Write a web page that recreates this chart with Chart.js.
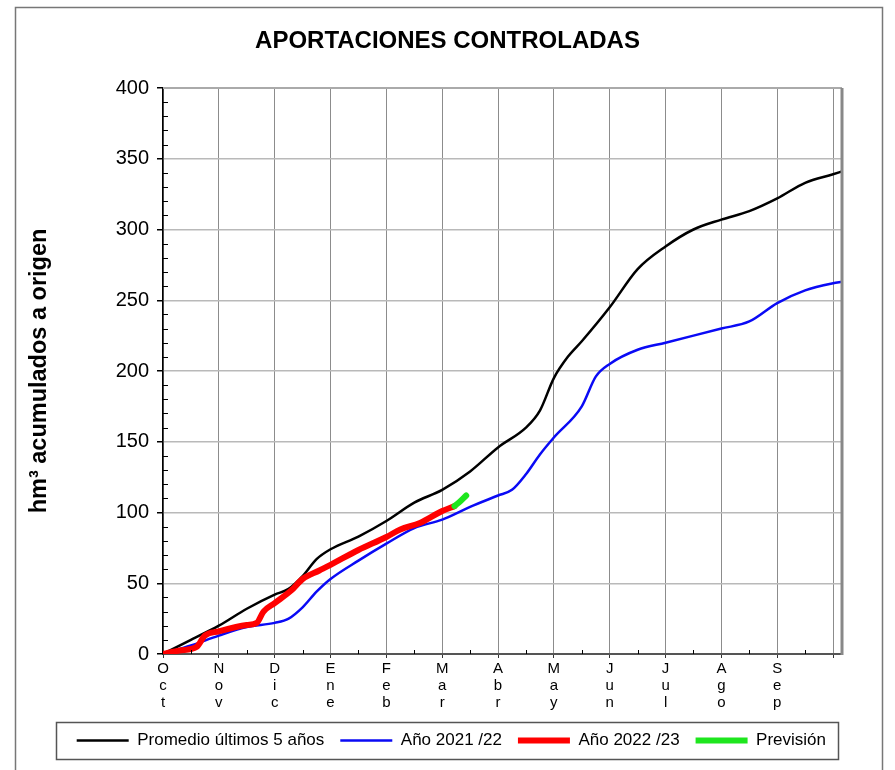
<!DOCTYPE html>
<html>
<head>
<meta charset="utf-8">
<script src="https://cdn.jsdelivr.net/npm/chart.js@4.4.0/dist/chart.umd.min.js"></script>
<style>
  html, body { margin: 0; padding: 0; background: #fff; }
</style>
</head>
<body>
<canvas id="myCanvas" width="895" height="770"></canvas>
<script>
// month tick positions (0 = 1 Oct) and stacked letter labels
const monthTicks = [0, 1, 2, 3, 4, 5, 6, 7, 8, 9, 10, 11, 12];
const monthLabels = [
  ['O','c','t'], ['N','o','v'], ['D','i','c'], ['E','n','e'], ['F','e','b'], ['M','a','r'],
  ['A','b','r'], ['M','a','y'], ['J','u','n'], ['J','u','l'], ['A','g','o'], ['S','e','p'], ['']
];
const yTicks = [0, 50, 100, 150, 200, 250, 300, 350, 400];
const chartTitle = 'APORTACIONES CONTROLADAS';

// Promedio últimos 5 años
const avgX    = [0, 0.5, 1, 1.5, 2, 2.25, 2.5, 2.75, 3, 3.5, 4, 4.5, 5, 5.5, 6, 6.5, 6.75, 7, 7.25, 7.5, 8, 8.5, 9, 9.5, 10, 10.5, 11, 11.5, 12, 12.16];
const avgVals = [0, 10, 20, 32, 42, 46, 55, 67, 74, 83, 94, 107, 116, 129, 146, 160, 172, 195, 210, 221, 245, 272, 288, 300, 307, 313, 322, 333, 339, 341];

// Año 2021/22
const y2122X    = [0, 0.5, 1, 1.5, 2, 2.25, 2.5, 2.75, 3, 3.5, 4, 4.5, 5, 5.5, 6, 6.25, 6.5, 6.75, 7, 7.5, 7.75, 8, 8.5, 9, 9.5, 10, 10.5, 11, 11.5, 12, 12.16];
const y2122Vals = [0, 6, 13, 19, 22, 25, 33, 44, 53, 66, 78, 89, 95, 104, 112, 116, 127, 141, 153, 175, 196, 205, 215, 220, 225, 230, 235, 248, 257, 262, 263];

// Año 2022/23
const y2223X    = [0, 0.3, 0.6, 0.75, 1, 1.5, 1.68, 1.8, 2, 2.3, 2.5, 2.8, 3, 3.5, 4, 4.25, 4.6, 5, 5.22];
const y2223Vals = [0, 2.5, 5, 13, 16, 20.5, 22, 30, 36, 45, 53, 59, 63, 73.5, 82.7, 88, 92.6, 101, 104.5];

// Previsión
const forecastX    = [5.22, 5.3, 5.43];
const forecastVals = [104.5, 107, 112];

const toPoints = (xs, ys) => xs.map((x, i) => ({ x: x, y: ys[i] }));
const FONT = "'Liberation Sans', Arial, sans-serif";

// title, frame, plot border, minor ticks, legend box
const decorations = {
  id: 'decorations',
  afterDraw(chart) {
    const c = chart.ctx, a = chart.chartArea;
    const xs = chart.scales.x, ys = chart.scales.y;
    c.save();
    // title centred on the page
    c.fillStyle = '#000';
    c.font = 'bold 24px ' + FONT;
    c.textAlign = 'center';
    c.textBaseline = 'middle';
    c.fillText(chartTitle, chart.width / 2, 41);
    // outer frame
    c.strokeStyle = '#777';
    c.lineWidth = 1.5;
    c.strokeRect(15.5, 7.5, 867, 800);
    // plot top / right border
    c.strokeStyle = '#aaa';
    c.lineWidth = 2;
    c.beginPath(); c.moveTo(a.left, a.top); c.lineTo(a.right, a.top); c.stroke();
    c.strokeStyle = '#888';
    c.lineWidth = 3;
    c.beginPath(); c.moveTo(a.right, a.top); c.lineTo(a.right, a.bottom + 1); c.stroke();
    // minor ticks
    c.strokeStyle = '#000';
    c.lineWidth = 1;
    c.beginPath();
    for (let m = 0.5; m < 12.16; m += 1) {
      const px = Math.round(xs.getPixelForValue(m)) + 0.5;
      c.moveTo(px, a.bottom); c.lineTo(px, a.bottom - 4);
    }
    for (let v = 10; v < 400; v += 10) {
      if (v % 50 === 0) continue;
      const py = Math.round(ys.getPixelForValue(v)) + 0.5;
      c.moveTo(a.left, py); c.lineTo(a.left + 5, py);
    }
    c.stroke();
    // legend box
    const boxes = chart.legend.legendHitBoxes;
    if (boxes && boxes.length) {
      let l = Infinity, r = -Infinity, t = Infinity, b = -Infinity;
      boxes.forEach(h => {
        l = Math.min(l, h.left); r = Math.max(r, h.left + h.width);
        t = Math.min(t, h.top); b = Math.max(b, h.top + h.height);
      });
      c.strokeStyle = '#555';
      c.lineWidth = 1.5;
      c.strokeRect(Math.round(l - 21) + 0.5, Math.round(t - 10) + 0.5, Math.round(r - l + 33), Math.round(b - t + 20));
    }
    c.restore();
  }
};

const ctx = document.querySelector('#myCanvas').getContext('2d');
const myChart = new Chart(ctx, {
  type: 'line',
  data: {
    datasets: [
      { label: 'Promedio últimos 5 años', data: toPoints(avgX, avgVals), borderColor: '#000000', borderWidth: 2.5, order: 3 },
      { label: 'Año 2021 /22', data: toPoints(y2122X, y2122Vals), borderColor: '#0a0af5', borderWidth: 2.5, order: 2 },
      { label: 'Año 2022 /23', data: toPoints(y2223X, y2223Vals), borderColor: '#ff0000', borderWidth: 6, order: 1 },
      { label: 'Previsión', data: toPoints(forecastX, forecastVals), borderColor: '#1ee61e', borderWidth: 6, order: 0 }
    ]
  },
  options: {
    responsive: false,
    animation: false,
    events: [],
    layout: { padding: { left: 16, right: 53, top: 88, bottom: 11 } },
    elements: {
      point: { radius: 0 },
      line: { cubicInterpolationMode: 'monotone', borderCapStyle: 'round', borderJoinStyle: 'round', fill: false }
    },
    scales: {
      x: {
        type: 'linear',
        min: 0,
        max: 12.16,
        afterBuildTicks: (scale) => { scale.ticks = monthTicks.map(v => ({ value: v })); },
        afterFit: (scale) => { scale.height = 62; },
        ticks: {
          autoSkip: false,
          maxRotation: 0,
          padding: 2,
          color: '#000',
          font: { family: FONT, size: 15, lineHeight: 1.14 },
          callback: (v, i) => monthLabels[i]
        },
        grid: { color: '#8c8c8c', lineWidth: 1, tickLength: 4, tickColor: '#333' },
        border: { color: '#555', width: 2 }
      },
      y: {
        min: 0,
        max: 400,
        afterBuildTicks: (scale) => { scale.ticks = yTicks.map(v => ({ value: v })); },
        afterFit: (scale) => { scale.width = 147; },
        ticks: {
          padding: 8,
          color: '#000',
          font: { family: FONT, size: 20 }
        },
        grid: { color: '#b9b9b9', lineWidth: 1.5, tickLength: 6, tickColor: '#000' },
        border: { color: '#000', width: 1.5 },
        title: {
          display: true,
          text: 'hm³ acumulados a origen',
          color: '#000',
          font: { family: FONT, size: 23.5, weight: 'bold' },
          padding: { top: 9, bottom: 0 }
        }
      }
    },
    plugins: {
      title: { display: false },
      legend: {
        position: 'bottom',
        align: 'end',
        labels: {
          color: '#000',
          font: { family: FONT, size: 17 },
          usePointStyle: true,
          pointStyle: 'line',
          pointStyleWidth: 52,
          padding: 16,
          sort: (a, b) => a.datasetIndex - b.datasetIndex
        }
      },
      tooltip: { enabled: false }
    }
  },
  plugins: [decorations]
});
</script>
</body>
</html>
